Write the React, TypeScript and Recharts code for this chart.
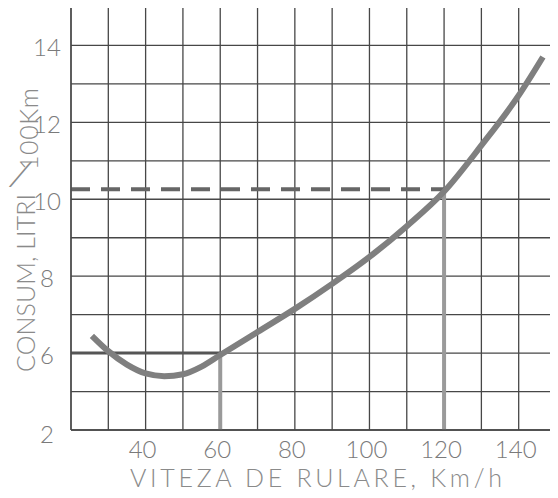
import React from "react";
import { LineChart, Line, XAxis, YAxis, CartesianGrid, ReferenceLine } from "recharts";

// Curve readings (speed km/h -> consumption l/100km)
const speeds = [25.6, 30, 35, 40, 45, 50, 55, 60, 70, 80, 90, 100, 110, 120, 130, 140, 146.5];
const consumption = [6.45, 6.05, 5.7, 5.47, 5.4, 5.45, 5.65, 5.95, 6.55, 7.15, 7.8, 8.5, 9.3, 10.2, 11.4, 12.7, 13.7];

// Grid
const xGrid = [20, 30, 40, 50, 60, 70, 80, 90, 100, 110, 120, 130, 140, 150];
const yGrid = [4, 5, 6, 7, 8, 9, 10, 11, 12, 13, 14, 15];

// Tick labels as drawn
const xLabelValues = [40, 60, 80, 100, 120, 140];
const xLabelTexts = ["40", "60", "80", "100", "120", "140"];
const yLabelValues = [4, 6, 8, 10, 12, 14];
const yLabelTexts = ["2", "6", "8", "10", "12", "14"];

// Marked reading
const markLevel = 10.26;
const markSpeed = 120;
const lowSpeed = 60;
const lowLevel = 6;

const xTitle = "VITEZA DE RULARE, Km/h";
const yTitleA = "CONSUM, LITRI";
const yTitleSlash = "/";
const yTitleB = "100Km";

const data = speeds.map((s, i) => ({ speed: s, consum: consumption[i] }));

const FONT = "Lato, 'DejaVu Sans', sans-serif";

const XTick = (props: any) => {
  const { x, payload } = props;
  const idx = xLabelValues.indexOf(payload.value);
  if (idx < 0) return null;
  return (
    <text x={x - 3} y={458} textAnchor="middle" fontFamily={FONT} fontWeight={300} fontSize={24} fill="#7a7a7a">
      {xLabelTexts[idx]}
    </text>
  );
};

const YTick = (props: any) => {
  const { y, payload } = props;
  const idx = yLabelValues.indexOf(payload.value);
  if (idx < 0) return null;
  const extra = payload.value === 4 ? 5 : 3;
  return (
    <text x={47} y={y + extra + 8} textAnchor="middle" fontFamily={FONT} fontWeight={300} fontSize={24} fill="#7a7a7a">
      {yLabelTexts[idx]}
    </text>
  );
};

export default function App() {
  return (
    <div style={{ marginTop: -8, marginLeft: -8, width: 558, height: 498, background: "#fff" }}>
      <LineChart width={558} height={498} data={data} margin={{ top: 7, right: 2, bottom: 0, left: 0 }}>
        <CartesianGrid stroke="#474747" strokeWidth={1.3} />
        <XAxis
          dataKey="speed"
          type="number"
          domain={[20, 150]}
          ticks={xGrid}
          interval={0}
          height={68}
          axisLine={{ stroke: "#474747", strokeWidth: 1.3 }}
          tickLine={false}
          tick={<XTick />}
        />
        <YAxis
          type="number"
          domain={[4, 15]}
          ticks={yGrid}
          interval={0}
          width={71}
          axisLine={{ stroke: "#474747", strokeWidth: 1.3 }}
          tickLine={false}
          tick={<YTick />}
        />
        <ReferenceLine
          segment={[{ x: 20, y: lowLevel }, { x: lowSpeed, y: lowLevel }]}
          stroke="#555"
          strokeWidth={3}
        />
        <ReferenceLine
          segment={[{ x: lowSpeed, y: 4 }, { x: lowSpeed, y: lowLevel }]}
          stroke="#9a9a9a"
          strokeWidth={4}
        />
        <ReferenceLine
          segment={[{ x: markSpeed, y: 4 }, { x: markSpeed, y: markLevel }]}
          stroke="#9a9a9a"
          strokeWidth={4}
        />
        <ReferenceLine
          segment={[{ x: 20, y: markLevel }, { x: markSpeed, y: markLevel }]}
          stroke="#666"
          strokeWidth={4}
          strokeDasharray="19 11"
        />
        <Line
          dataKey="consum"
          type="monotone"
          stroke="#7f7f7f"
          strokeWidth={6}
          dot={false}
          isAnimationActive={false}
        />
        <text x={130} y={487} fontFamily={FONT} fontWeight={300} fontSize={25} fill="#8a8a8a" textLength={372} lengthAdjust="spacing">
          {xTitle}
        </text>
        <text
          x={35}
          y={372}
          transform="rotate(-90 35 372)"
          fontFamily={FONT}
          fontWeight={300}
          fontSize={25}
          fill="#8a8a8a"
          textLength={178}
          lengthAdjust="spacing"
        >
          {yTitleA}
        </text>
        <text
          x={20}
          y={188}
          transform="rotate(18 20 176)"
          textAnchor="middle"
          fontFamily={FONT}
          fontWeight={300}
          fontSize={40}
          fill="#8a8a8a"
        >
          {yTitleSlash}
        </text>
        <text
          x={38}
          y={170}
          transform="rotate(-90 38 170)"
          fontFamily={FONT}
          fontWeight={300}
          fontSize={25}
          fill="#8a8a8a"
          textLength={82}
          lengthAdjust="spacing"
        >
          {yTitleB}
        </text>
      </LineChart>
    </div>
  );
}
